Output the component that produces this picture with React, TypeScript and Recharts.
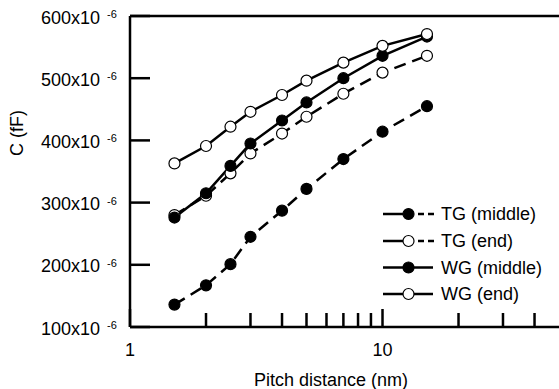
import React from 'react';
import { LineChart, Line, XAxis, YAxis, ReferenceLine, Customized } from 'recharts';

const FONT = '"Liberation Sans", Arial, Helvetica, sans-serif';

// Pitch distance (nm)
const pitch = [1.5, 2, 2.5, 3, 4, 5, 7, 10, 15];
// Capacitance (fF), in units of 1e-6
const tgMiddle = [136, 167, 201, 245, 287, 322, 370, 414, 455];
const tgEnd = [280, 311, 347, 379, 411, 438, 475, 509, 536];
const wgMiddle = [276, 315, 359, 395, 432, 461, 500, 536, 567];
const wgEnd = [363, 391, 422, 446, 473, 496, 525, 552, 571];

const seriesNames = ['TG (middle)', 'TG (end)', 'WG (middle)', 'WG (end)'];
const xTicks = [1, 2, 3, 4, 5, 6, 7, 8, 9, 10, 20, 30, 40];
const xLabeled = [1, 10];
const yTickValues = [100, 200, 300, 400, 500, 600];

const data = pitch.map((x, i) => ({
  x,
  tgMiddle: tgMiddle[i] * 1e-6,
  tgEnd: tgEnd[i] * 1e-6,
  wgMiddle: wgMiddle[i] * 1e-6,
  wgEnd: wgEnd[i] * 1e-6,
}));
const yTicks = yTickValues.map((v) => v * 1e-6);

const XTick = (props: any) => {
  const { x, y, payload } = props;
  const v = Math.round(payload.value * 1000) / 1000;
  const major = v === 1 || v === 10;
  return (
    <g>
      <line x1={x} x2={x} y1={y} y2={y - (major ? 18 : 14)} stroke="#000" strokeWidth={2.5} />
      {xLabeled.includes(v) && (
        <text x={x} y={y + 23} textAnchor="middle" dominantBaseline="central" fontSize={18} fontFamily={FONT} fill="#000">
          {v}
        </text>
      )}
    </g>
  );
};

const YTick = (props: any) => {
  const { x, y, payload } = props;
  const v = Math.round(payload.value * 1e6);
  return (
    <g>
      <line x1={x} x2={x + 20} y1={y} y2={y} stroke="#000" strokeWidth={2.5} />
      <text x={x - 30} y={y + 1.5} textAnchor="end" dominantBaseline="central" fontSize={18} fontFamily={FONT} fill="#000">
        {v}x10
      </text>
      <text x={x - 23} y={y - 2} textAnchor="start" dominantBaseline="central" fontSize={11} fontFamily={FONT} fill="#000">
        -6
      </text>
    </g>
  );
};

const legendRows = [
  { name: seriesNames[0], filled: true, dashed: true },
  { name: seriesNames[1], filled: false, dashed: true },
  { name: seriesNames[2], filled: true, dashed: false },
  { name: seriesNames[3], filled: false, dashed: false },
];

const Overlay = () => {
  const rowY = [214, 241, 267.5, 294];
  return (
    <g>
      <text x={17} y={133} transform="rotate(-90 17 133)" textAnchor="middle" dominantBaseline="central" fontSize={18} fontFamily={FONT} fill="#000">
        C (fF)
      </text>
      <text x={331} y={380} textAnchor="middle" dominantBaseline="central" fontSize={18} fontFamily={FONT} fill="#000">
        Pitch distance (nm)
      </text>
      {legendRows.map((r, i) => {
        const y = rowY[i];
        return (
          <g key={r.name}>
            {r.dashed ? (
              <g stroke="#000" strokeWidth={2.5}>
                <line x1={383} x2={403} y1={y} y2={y} />
                <line x1={418} x2={424} y1={y} y2={y} />
                <line x1={428} x2={434} y1={y} y2={y} />
              </g>
            ) : (
              <line x1={383} x2={433} y1={y} y2={y} stroke="#000" strokeWidth={2.5} />
            )}
            <circle cx={408.5} cy={y} r={5.5} fill={r.filled ? '#000' : '#fff'} stroke="#000" strokeWidth={1.2} />
            <text x={441} y={y} dominantBaseline="central" fontSize={18} fontFamily={FONT} fill="#000">
              {r.name}
            </text>
          </g>
        );
      })}
    </g>
  );
};

const dotFilled = { r: 5.5, fill: '#000', stroke: '#000', strokeWidth: 1.2, strokeDasharray: 'none' };
const dotOpen = { r: 5.5, fill: '#fff', stroke: '#000', strokeWidth: 1.2, strokeDasharray: 'none' };

export default function App() {
  return (
    <div style={{ position: 'absolute', left: 0, top: 0, width: 559, height: 389, background: '#fff' }}>
      <LineChart width={559} height={389} data={data} margin={{ top: 16, right: 0, bottom: 0, left: 0 }}>
        <XAxis
          dataKey="x"
          type="number"
          scale="log"
          domain={[1, 50]}
          allowDataOverflow
          ticks={xTicks}
          interval={0}
          height={62}
          tickSize={0}
          tickMargin={0}
          tick={<XTick />}
          axisLine={{ stroke: '#000', strokeWidth: 2.5 }}
          tickLine={false}
        />
        <YAxis
          type="number"
          domain={[100e-6, 600e-6]}
          ticks={yTicks}
          interval={0}
          width={130}
          tickSize={0}
          tickMargin={0}
          tick={<YTick />}
          axisLine={{ stroke: '#000', strokeWidth: 2.5 }}
          tickLine={false}
        />
        <ReferenceLine y={600e-6} stroke="#000" strokeWidth={2.5} />
        <Line dataKey="tgMiddle" name={seriesNames[0]} stroke="#000" strokeWidth={2.5} strokeDasharray="12 7" dot={dotFilled} isAnimationActive={false} />
        <Line dataKey="tgEnd" name={seriesNames[1]} stroke="#000" strokeWidth={2.5} strokeDasharray="12 7" dot={dotOpen} isAnimationActive={false} />
        <Line dataKey="wgMiddle" name={seriesNames[2]} stroke="#000" strokeWidth={2.5} dot={dotFilled} isAnimationActive={false} />
        <Line dataKey="wgEnd" name={seriesNames[3]} stroke="#000" strokeWidth={2.5} dot={dotOpen} isAnimationActive={false} />
        <Customized component={<Overlay />} />
      </LineChart>
    </div>
  );
}
